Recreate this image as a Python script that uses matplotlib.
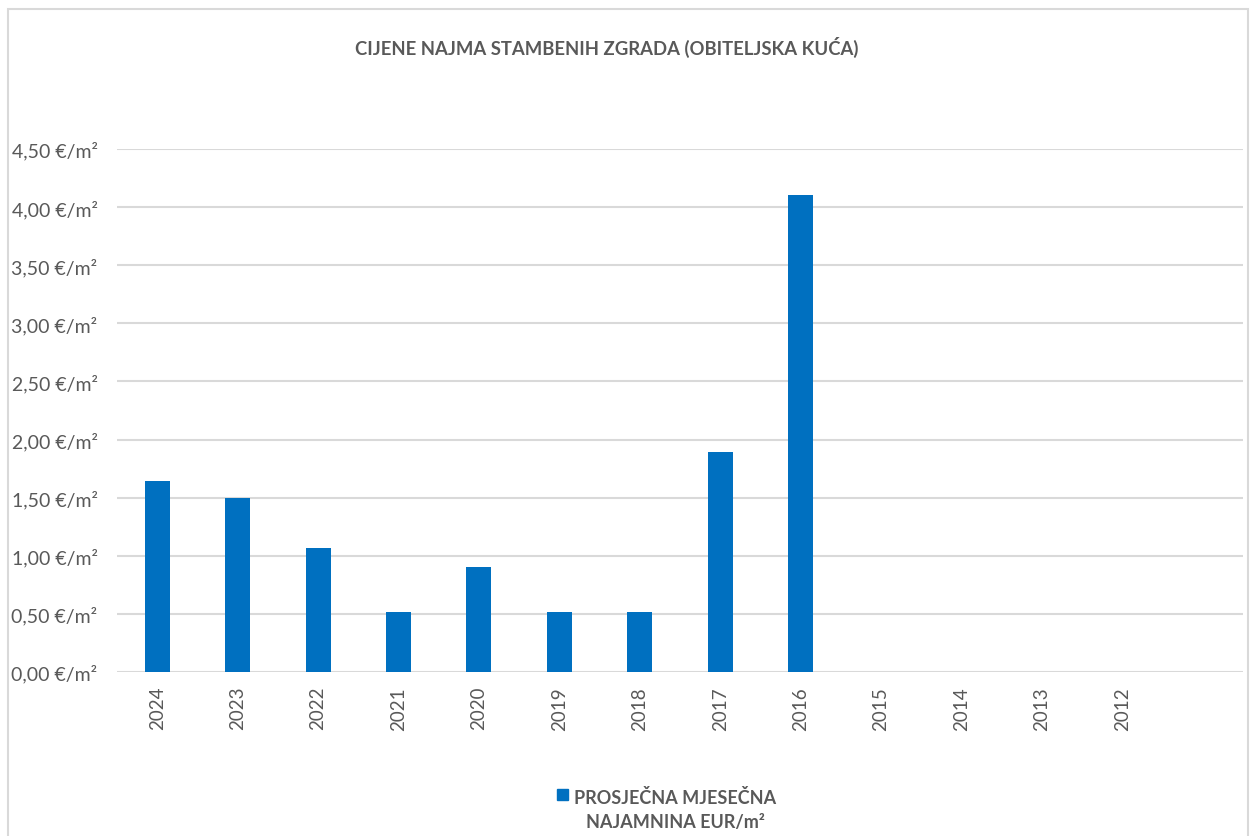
import matplotlib.pyplot as plt
from matplotlib.patches import Rectangle

godine = ['2024', '2023', '2022', '2021', '2020', '2019', '2018', '2017', '2016',
          '2015', '2014', '2013', '2012', '']
najamnina = [1.64, 1.50, 1.07, 0.52, 0.90, 0.52, 0.52, 1.89, 4.10,
             0, 0, 0, 0, 0]
y_ticks = [0, 0.5, 1.0, 1.5, 2.0, 2.5, 3.0, 3.5, 4.0, 4.5]

plt.rcParams['font.family'] = ['Lato', 'DejaVu Sans']
siva = '#595959'

fig = plt.figure(figsize=(12.53, 8.37), dpi=100)
ax = fig.add_axes([117/1253, 1 - 673/837, 1126/1253, (673 - 150)/837])

x = range(len(godine))
ax.bar(x, najamnina, width=0.31, color='#0070C0', zorder=3)

ax.set_xlim(-0.5, len(godine) - 0.5)
ax.set_ylim(0, 4.5)
ax.set_yticks(y_ticks)
ax.set_yticklabels([f'{v:.2f}'.replace('.', ',') + ' €/m²' for v in y_ticks])
ax.set_xticks(list(x))
ax.set_xticklabels(godine, rotation=90)
ax.tick_params(axis='y', length=0, pad=14, labelsize=14, labelcolor=siva)
ax.tick_params(axis='x', length=0, pad=10, labelsize=13.5, labelcolor=siva)
ax.grid(axis='y', color='#D9D9D9', linewidth=1.5, zorder=0)
for s in ax.spines.values():
    s.set_visible(False)

# okvir grafikona
fig.patches.append(Rectangle((8/1253, -0.01), 1240/1253, 1 - 10/837 + 0.01,
                             transform=fig.transFigure, fill=False,
                             edgecolor='#D9D9D9', linewidth=1.5))

fig.text(607/1253, 1 - 47/837, 'CIJENE NAJMA STAMBENIH ZGRADA (OBITELJSKA KUĆA)',
         ha='center', va='center', fontsize=13.3, fontweight='bold', color=siva)

# legenda
fig.patches.append(Rectangle((557/1253, 1 - 801/837), 11/1253, 11/837,
                             transform=fig.transFigure, color='#0070C0'))
fig.text(675/1253, 1 - 810/837, 'PROSJEČNA MJESEČNA\nNAJAMNINA EUR/m²',
         ha='center', va='center', fontsize=13, fontweight='bold',
         color=siva, linespacing=1.5)

fig.savefig('out.png', dpi=100)
